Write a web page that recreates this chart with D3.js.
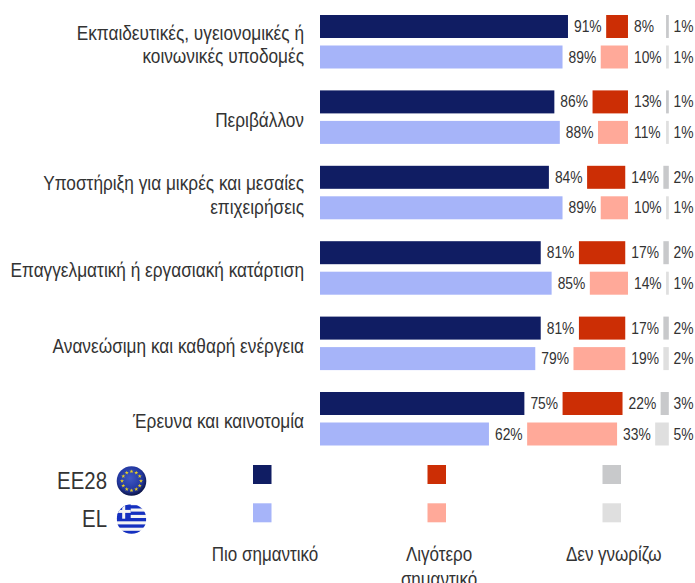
<!DOCTYPE html>
<html><head><meta charset="utf-8">
<script src="https://cdn.jsdelivr.net/npm/d3@7"></script>
<style>html,body{margin:0;padding:0;background:#fff;overflow:hidden}svg{display:block}
text{font-family:"Liberation Sans",Arial,sans-serif;fill:#333}</style></head>
<body><div id="c"></div>
<script>
const categories=[["Εκπαιδευτικές, υγειονομικές ή","κοινωνικές υποδομές"],["Περιβάλλον"],["Υποστήριξη για μικρές και μεσαίες","επιχειρήσεις"],["Επαγγελματική ή εργασιακή κατάρτιση"],["Ανανεώσιμη και καθαρή ενέργεια"],["Έρευνα και καινοτομία"]];
const important_EU=[91,86,84,81,81,75];
const important_EL=[89,88,89,85,79,62];
const less_EU=[8,13,14,17,17,22];
const less_EL=[10,11,10,14,19,33];
const dk_EU=[1,1,2,2,2,3];
const dk_EL=[1,1,1,1,2,5];
const seriesNames=["EE28","EL"];
const legendLabels=[["Πιο σημαντικό"],["Λιγότερο","σημαντικό"],["Δεν γνωρίζω"]];
const colours={EE28:["#101d63","#cc2e05","#c8c9cb"],EL:["#a6b4f9","#ffa999","#dfdfdf"]};

const W=695,H=583;
const svg=d3.select("#c").append("svg").attr("width",W).attr("height",H);
const k=2.725;
const x=d3.scaleLinear().domain([0,100]).range([320,320+100*k]);
const w=v=>x(v)-x(0);
const redBase=630.7, greyEnd=668.8;
const yGroup=d3.scaleBand().domain(d3.range(categories.length)).range([15,15+75.4*categories.length]).paddingInner(0).paddingOuter(0).align(0);
const ySeries=d3.scaleOrdinal().domain(seriesNames).range([0,30.5]);
const bh=23;
const condensed=.85;
function label(g,tx,ty,str,size,anchor){
  g.append("text").attr("transform",`translate(${tx},${ty}) scale(${condensed},1)`).attr("text-anchor",anchor).attr("font-size",size).text(str);
}
const rows=[];
categories.forEach((c,i)=>{
  rows.push({i,s:"EE28",a:important_EU[i],b:less_EU[i],d:dk_EU[i]});
  rows.push({i,s:"EL",a:important_EL[i],b:less_EL[i],d:dk_EL[i]});
});
const fs=16.3;
rows.forEach(r=>{
  const top=yGroup(r.i)+ySeries(r.s), c=colours[r.s], ty=top+bh/2+5.5;
  svg.append("rect").attr("x",x(0)).attr("y",top).attr("width",w(r.a)).attr("height",bh).attr("fill",c[0]);
  label(svg,x(r.a)+6,ty,r.a+"%",fs,"start");
  const rEnd=redBase-w(r.d);
  svg.append("rect").attr("x",rEnd-w(r.b)).attr("y",top).attr("width",w(r.b)).attr("height",bh).attr("fill",c[1]);
  label(svg,rEnd+6,ty,r.b+"%",fs,"start");
  svg.append("rect").attr("x",greyEnd-w(r.d)).attr("y",top).attr("width",w(r.d)).attr("height",bh).attr("fill",c[2]);
  label(svg,693.5,ty,r.d+"%",fs,"end");
});
categories.forEach((lines,i)=>{
  const cy=yGroup(i)+(bh+30.5)/2;
  const lh=23.5;
  lines.forEach((l,j)=>{
    label(svg,304,cy+9.5+(j-(lines.length-1)/2)*lh,l,20.3,"end");
  });
});
// legend
const legendX=[253,427.5,602.5], legendY=[465,503.3];
seriesNames.forEach((s,si)=>{
  legendX.forEach((lx,ci)=>{
    svg.append("rect").attr("x",lx).attr("y",legendY[si]).attr("width",18.5).attr("height",19).attr("fill",colours[s][ci]);
  });
  label(svg,107,[489,527][si],s,24,"end");
});
legendLabels.forEach((lines,i)=>{
  lines.forEach((l,j)=>{
    label(svg,[265,439,613.7][i],561+j*25,l,20,"middle");
  });
});
// badges
const defs=svg.append("defs");
const eu=defs.append("radialGradient").attr("id","eu").attr("cx","45%").attr("cy","40%").attr("r","60%");
eu.append("stop").attr("offset","0").attr("stop-color","#3f58c4");
eu.append("stop").attr("offset",".7").attr("stop-color","#22379f");
eu.append("stop").attr("offset","1").attr("stop-color","#0c1446");
const cxF=131.5,cyEU=481,cyEL=519,rF=14.8;
svg.append("circle").attr("cx",cxF).attr("cy",cyEU).attr("r",rF).attr("fill","url(#eu)");
d3.range(12).forEach(i=>{
  const a=i/12*2*Math.PI;
  svg.append("path").attr("d",d3.symbol(d3.symbolStar,5)()).attr("fill","#e8d020")
    .attr("transform",`translate(${cxF+9.5*Math.cos(a)},${cyEU+9.5*Math.sin(a)})`);
});
defs.append("clipPath").attr("id","gr").append("circle").attr("cx",cxF).attr("cy",cyEL).attr("r",rF);
const flag=svg.append("g").attr("clip-path","url(#gr)");
flag.append("rect").attr("x",cxF-rF).attr("y",cyEL-rF).attr("width",2*rF).attr("height",2*rF).attr("fill","#f4f4f4");
d3.range(5).forEach(i=>{
  flag.append("rect").attr("x",cxF-rF).attr("y",cyEL-rF+1+i*6.4).attr("width",2*rF).attr("height",3.3).attr("fill","#1530c0");
});
flag.append("rect").attr("x",cxF-rF).attr("y",cyEL-rF).attr("width",14).attr("height",14.5).attr("fill","#1530c0");
flag.append("rect").attr("x",cxF-rF).attr("y",cyEL-rF+5.7).attr("width",14).attr("height",3).attr("fill","#f4f4f4");
flag.append("rect").attr("x",cxF-rF+5.5).attr("y",cyEL-rF).attr("width",3).attr("height",14.5).attr("fill","#f4f4f4");
</script></body></html>
